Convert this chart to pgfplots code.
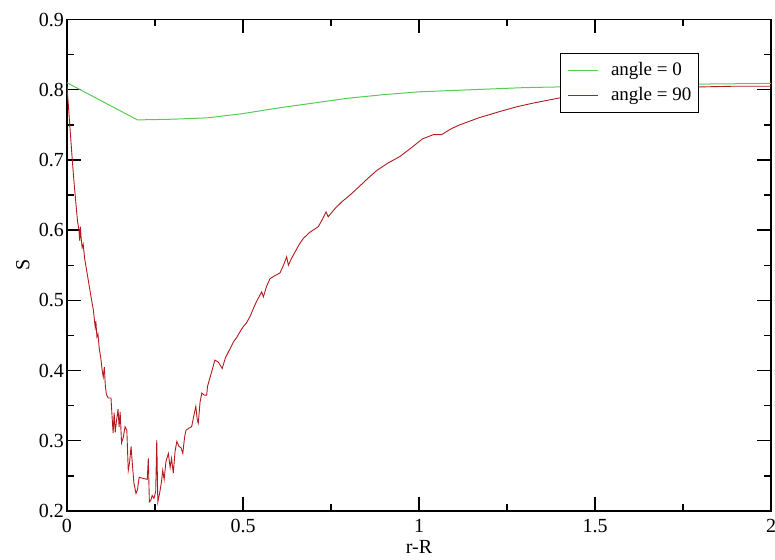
\documentclass[border=0pt]{standalone}
\usepackage{fontspec}
\setmainfont{Liberation Serif}
\usepackage{pgfplots}
\pgfplotsset{compat=1.18}
\definecolor{cgreen}{RGB}{85,205,85}
\definecolor{cred}{RGB}{180,25,30}
\begin{document}
\begin{tikzpicture}
\useasboundingbox (0,0) rectangle (775pt,559pt);
\begin{axis}[
  at={(67pt,48pt)}, anchor=south west,
  scale only axis, width=704pt, height=491.5pt,
  xmin=0, xmax=2, ymin=0.2, ymax=0.9,
  xtick={0,0.5,1,1.5,2},
  ytick={0.2,0.3,0.4,0.5,0.6,0.7,0.8,0.9},
  yticklabels={0.2,0.3,0.4,0.5,0.6,0.7,0.8,0.9},
  xticklabels={0,0.5,1,1.5,2},
  minor x tick num=1, minor y tick num=1,
  tick align=inside,
  major tick length=14pt, minor tick length=7pt,
  axis line style={line width=1.3pt},
  every tick/.append style={black, line width=1.4pt},
  /pgf/number format/assume math mode=true,
  tick label style={font=\fontsize{20}{23}\selectfont},
  xticklabel style={yshift=-5pt},
  yticklabel style={xshift=0.5pt},
  xlabel={r-R}, ylabel={S},
  label style={font=\fontsize{20}{23}\selectfont},
  xlabel style={at={(axis description cs:0.5,-0.0855)}, anchor=base},
  ylabel style={at={(axis description cs:-0.0536,0.5)}, anchor=base, rotate=0},
  legend style={draw=black, line width=1pt, fill=white,
    at={(axis description cs:0.700,0.932)}, anchor=north west,
    inner xsep=6.7pt, inner ysep=4.2pt, row sep=0pt, column sep=13pt,
    font=\fontsize{19}{22}\selectfont,
    nodes={inner sep=0pt, text height=17.5pt, text depth=7.8pt}},
  legend cell align=left,
  legend image code/.code={\draw[#1] (0pt,0pt) -- (30pt,0pt);},
]
\addplot[cgreen, line width=1pt] coordinates {
(0,0.810) (0.2,0.757) (0.3,0.758) (0.4,0.760) (0.5,0.766) (0.6,0.774)
(0.7,0.781) (0.8,0.788) (0.9,0.793) (1.0,0.797) (1.1,0.799) (1.2,0.801)
(1.3,0.803) (1.4,0.804) (1.5,0.805) (1.6,0.806) (1.7,0.807) (1.8,0.808) (2.0,0.809)
};
\addlegendentry{angle = 0}
\addplot[cred, line width=0.9pt] coordinates {
(0.000,0.805) (0.005,0.770) (0.010,0.735) (0.015,0.700) (0.020,0.668)
(0.025,0.640) (0.030,0.612) (0.034,0.600) (0.036,0.585) (0.038,0.605)
(0.040,0.590) (0.043,0.575) (0.046,0.580) (0.050,0.560) (0.055,0.545)
(0.060,0.530) (0.065,0.515) (0.070,0.500) (0.075,0.486) (0.080,0.462)
(0.082,0.470) (0.085,0.448) (0.088,0.452) (0.092,0.430) (0.096,0.418)
(0.100,0.400) (0.103,0.391) (0.106,0.405) (0.109,0.378) (0.112,0.366)
(0.117,0.361) (0.125,0.361) (0.128,0.335) (0.131,0.311) (0.134,0.340)
(0.137,0.312) (0.141,0.330) (0.145,0.345) (0.148,0.320) (0.151,0.341)
(0.155,0.297) (0.160,0.305) (0.165,0.320) (0.170,0.315) (0.174,0.258)
(0.178,0.270) (0.182,0.292) (0.186,0.265) (0.190,0.240) (0.196,0.225)
(0.200,0.230) (0.205,0.248) (0.212,0.247) (0.220,0.246) (0.228,0.245)
(0.231,0.275) (0.234,0.213) (0.238,0.215) (0.242,0.222) (0.247,0.218)
(0.252,0.228) (0.255,0.301) (0.258,0.213) (0.263,0.225) (0.268,0.240)
(0.272,0.258) (0.276,0.245) (0.281,0.270) (0.288,0.282) (0.293,0.262)
(0.297,0.275) (0.302,0.254) (0.307,0.285) (0.312,0.299) (0.318,0.292)
(0.324,0.290) (0.329,0.282) (0.334,0.305) (0.338,0.315) (0.346,0.318)
(0.354,0.320) (0.360,0.335) (0.366,0.349) (0.370,0.330) (0.373,0.325)
(0.378,0.355) (0.383,0.368) (0.390,0.365) (0.397,0.365) (0.399,0.377)
(0.405,0.388) (0.412,0.400) (0.420,0.415) (0.430,0.412) (0.441,0.403)
(0.450,0.418) (0.460,0.428) (0.468,0.436) (0.473,0.441) (0.482,0.447)
(0.491,0.455) (0.500,0.462) (0.510,0.468) (0.520,0.477) (0.530,0.489)
(0.540,0.500) (0.553,0.512) (0.558,0.505) (0.567,0.520) (0.577,0.531)
(0.590,0.535) (0.605,0.539) (0.615,0.550) (0.624,0.562) (0.629,0.550)
(0.638,0.560) (0.648,0.569) (0.660,0.580) (0.671,0.588) (0.690,0.597)
(0.714,0.605) (0.725,0.615) (0.736,0.626) (0.742,0.619) (0.760,0.630)
(0.780,0.640) (0.804,0.650) (0.830,0.662) (0.851,0.672) (0.880,0.685)
(0.910,0.695) (0.946,0.705) (0.980,0.718) (1.010,0.730) (1.041,0.736)
(1.064,0.736) (1.090,0.744) (1.116,0.750) (1.170,0.760) (1.230,0.769)
(1.280,0.776) (1.325,0.781) (1.396,0.788) (1.450,0.793) (1.500,0.796)
(1.600,0.800) (1.700,0.802) (1.800,0.804) (1.900,0.805) (2.000,0.805)
};
\addlegendentry{angle = 90}
\end{axis}
\end{tikzpicture}
\end{document}
